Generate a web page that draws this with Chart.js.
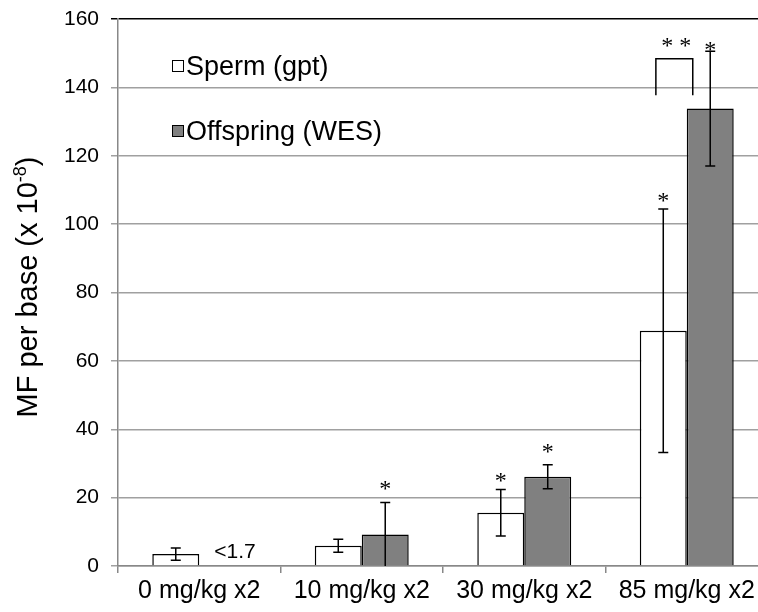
<!DOCTYPE html>
<html lang="en">
<head>
    <meta charset="UTF-8">
    <title>MF per base</title>
    <script src="https://cdn.jsdelivr.net/npm/chart.js@4.4.0/dist/chart.umd.min.js"></script>
    <style>
        html, body {
            margin: 0;
            padding: 0;
            background: #ffffff;
            overflow: hidden;
        }
        #mfChart {
            display: block;
        }
    </style>
</head>
<body>
    <canvas id="mfChart" width="770" height="612"></canvas>

    <script>
// Dose groups
const categories = ['0 mg/kg x2', '10 mg/kg x2', '30 mg/kg x2', '85 mg/kg x2'];

// Sperm (gpt) mutation frequency and error
const spermMF = [3.5, 5.9, 15.6, 68.8];
const spermErr = [1.8, 1.9, 6.8, 35.6];

// Offspring (WES) mutation frequency and error (0 mg/kg below detection)
const offspringMF = [null, 9.2, 26.1, 133.8];
const offspringErr = [null, 9.4, 3.5, 16.8];

// Where the significance asterisks sit (in MF units)
const spermStarY = [null, null, 26.6, 108.6];
const offspringStarY = [null, 24.3, 35.1, 152.6];

// y axis ticks
const yTicks = [0, 20, 40, 60, 80, 100, 120, 140, 160];

const FONT = 'Arial, "Liberation Sans", sans-serif';

// Draws error bars, asterisks, bracket, note, legend and the axis title
const extrasPlugin = {
    id: 'extras',
    afterDatasetsDraw(chart) {
        const ctx = chart.ctx;
        const y = chart.scales.y;
        const x = chart.scales.x;
        const area = chart.chartArea;
        const sets = [
            { meta: chart.getDatasetMeta(0), vals: spermMF, errs: spermErr, stars: spermStarY },
            { meta: chart.getDatasetMeta(1), vals: offspringMF, errs: offspringErr, stars: offspringStarY }
        ];

        ctx.save();
        ctx.strokeStyle = '#000';
        ctx.fillStyle = '#000';
        ctx.lineWidth = 1.5;

        // error bars
        sets.forEach(s => {
            s.vals.forEach((v, i) => {
                if (v === null) return;
                const bx = s.meta.data[i].x;
                const hi = v + s.errs[i];
                const lo = v - s.errs[i];
                const yHi = y.getPixelForValue(hi);
                const yLo = y.getPixelForValue(Math.max(lo, 0));
                ctx.beginPath();
                ctx.moveTo(bx, yHi);
                ctx.lineTo(bx, yLo);
                ctx.moveTo(bx - 5, yHi);
                ctx.lineTo(bx + 5, yHi);
                if (lo > 0) {
                    ctx.moveTo(bx - 5, yLo);
                    ctx.lineTo(bx + 5, yLo);
                }
                ctx.stroke();
            });
        });

        // asterisks
        ctx.font = '24px "Liberation Serif", "Times New Roman", serif';
        ctx.textAlign = 'center';
        ctx.textBaseline = 'alphabetic';
        sets.forEach(s => {
            s.stars.forEach((sy, i) => {
                if (sy === null) return;
                ctx.fillText('*', s.meta.data[i].x, y.getPixelForValue(sy) + 13);
            });
        });

        // bracket between the 85 mg/kg bars
        const c3 = x.getPixelForValue(3);
        const cw = x.getPixelForValue(1) - x.getPixelForValue(0);
        const bl = c3 - cw * 0.19;
        const br = c3 + cw * 0.037;
        const bTop = y.getPixelForValue(148.4);
        const bBot = y.getPixelForValue(137.7);
        ctx.beginPath();
        ctx.moveTo(bl, bBot);
        ctx.lineTo(bl, bTop);
        ctx.lineTo(br, bTop);
        ctx.lineTo(br, bBot);
        ctx.stroke();
        ctx.fillText('* *', (bl + br) / 2 + 2, y.getPixelForValue(154) + 13);

        // "<1.7" note for 0 mg/kg offspring
        const b0 = sets[0].meta.data[0];
        ctx.font = '21px ' + FONT;
        ctx.textAlign = 'left';
        ctx.textBaseline = 'middle';
        ctx.fillText('<1.7', b0.x + b0.width / 2 + 15, y.getPixelForValue(4.1));

        // legend inside plot
        const lx = area.left + 54;
        const rows = [area.top + 47, area.top + 112];
        ctx.font = '27px ' + FONT;
        chart.data.datasets.forEach((ds, i) => {
            const cy = rows[i];
            ctx.fillStyle = ds.backgroundColor;
            ctx.fillRect(lx, cy - 6, 12, 12);
            ctx.lineWidth = 1;
            ctx.strokeStyle = '#000';
            ctx.strokeRect(lx + 0.5, cy - 5.5, 11, 11);
            ctx.fillStyle = '#000';
            ctx.textBaseline = 'alphabetic';
            ctx.fillText(ds.label, lx + 14, cy + 9);
        });

        // y axis title with superscript
        ctx.translate(37, 287);
        ctx.rotate(-Math.PI / 2);
        const main = 'MF per base (x 10';
        const sup = '-8';
        const tail = ')';
        ctx.font = '29px ' + FONT;
        const wMain = ctx.measureText(main).width;
        const wTail = ctx.measureText(tail).width;
        ctx.font = '18px ' + FONT;
        const wSup = ctx.measureText(sup).width;
        const total = wMain + wSup + wTail;
        let tx = -total / 2;
        ctx.font = '29px ' + FONT;
        ctx.fillText(main, tx, 0);
        tx += wMain;
        ctx.font = '18px ' + FONT;
        ctx.fillText(sup, tx, -11);
        tx += wSup;
        ctx.font = '29px ' + FONT;
        ctx.fillText(tail, tx, 0);

        ctx.restore();
    }
};

new Chart(document.getElementById('mfChart'), {
    type: 'bar',
    data: {
        labels: categories,
        datasets: [
            {
                label: 'Sperm (gpt)',
                data: spermMF,
                backgroundColor: '#ffffff',
                borderColor: '#000000',
                borderWidth: 1.5
            },
            {
                label: 'Offspring (WES)',
                data: offspringMF,
                backgroundColor: '#808080',
                borderColor: '#000000',
                borderWidth: 1.5
            }
        ]
    },
    options: {
        responsive: false,
        animation: false,
        events: [],
        datasets: {
            bar: {
                categoryPercentage: 0.578,
                barPercentage: 1
            }
        },
        layout: {
            padding: { top: 19, right: 2, left: 0, bottom: 0 }
        },
        plugins: {
            legend: { display: false },
            tooltip: { enabled: false }
        },
        scales: {
            x: {
                offset: true,
                grid: {
                    offset: true,
                    drawOnChartArea: false,
                    tickLength: 7,
                    color: '#888888',
                    lineWidth: 1.5
                },
                border: { color: '#888888', width: 1.5 },
                ticks: {
                    color: '#000000',
                    padding: 3,
                    font: { family: FONT, size: 25 }
                },
                afterFit(scale) {
                    scale.height = 46;
                    scale.paddingLeft = 0;
                    scale.paddingRight = 0;
                }
            },
            y: {
                min: 0,
                max: 160,
                afterBuildTicks(scale) {
                    scale.ticks = yTicks.map(v => ({ value: v }));
                },
                grid: {
                    color: c => (c.tick && c.tick.value === 160 ? '#000000' : '#a0a0a0'),
                    lineWidth: 1.5,
                    tickLength: 7
                },
                border: { color: '#888888', width: 1.5 },
                ticks: {
                    color: '#000000',
                    padding: 12,
                    font: { family: FONT, size: 21 }
                },
                afterFit(scale) {
                    scale.width = 118;
                    scale.paddingTop = 0;
                    scale.paddingBottom = 0;
                }
            }
        }
    },
    plugins: [extrasPlugin]
});
    </script>
</body>
</html>
